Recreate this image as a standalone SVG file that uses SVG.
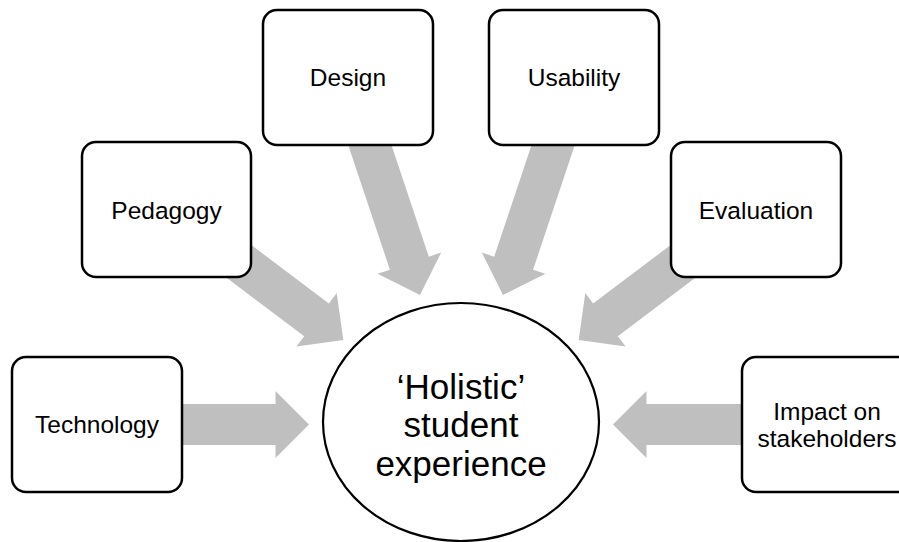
<svg xmlns="http://www.w3.org/2000/svg" width="899" height="542" viewBox="0 0 899 542">
<style>
.arrow{fill:#bfbfbf;stroke:none}
.box{fill:#ffffff;stroke:#000000;stroke-width:2.5}
.hub{fill:#ffffff;stroke:#000000;stroke-width:2.2}
.lbl{font-family:"Liberation Sans",Arial,sans-serif;font-size:24.5px;fill:#000000;text-anchor:middle}
.big{font-family:"Liberation Sans",Arial,sans-serif;font-size:35px;fill:#000000;text-anchor:middle}
</style>
<defs>
<polygon id="arr128" points="0,0 -33.5,-33.5 -33.5,-20.5 -128,-20.5 -128,20.5 -33.5,20.5 -33.5,33.5"/>
<polygon id="arr170" points="0,0 -33.5,-33.5 -33.5,-20.5 -170,-20.5 -170,20.5 -33.5,20.5 -33.5,33.5"/>
<polygon id="arr200" points="0,0 -33.5,-33.5 -33.5,-20.5 -200,-20.5 -200,20.5 -33.5,20.5 -33.5,33.5"/>
</defs>
<g id="connectors">
<use href="#arr128" class="arrow" transform="translate(309,424.5)"/>
<use href="#arr128" class="arrow" transform="translate(613,424.5) rotate(180)"/>
<use href="#arr170" class="arrow" transform="translate(343.3,340) rotate(37)"/>
<use href="#arr170" class="arrow" transform="translate(578.7,340) rotate(143)"/>
<use href="#arr200" class="arrow" transform="translate(420,295) rotate(71.5)"/>
<use href="#arr200" class="arrow" transform="translate(503,295) rotate(108.5)"/>
</g>
<g id="technology">
<rect class="box" x="12" y="357" width="170" height="135" rx="14"/>
<text class="lbl" x="97" y="433">Technology</text>
</g>
<g id="pedagogy">
<rect class="box" x="82" y="142" width="169" height="135" rx="14"/>
<text class="lbl" x="166.5" y="218.5">Pedagogy</text>
</g>
<g id="design">
<rect class="box" x="263" y="10" width="170" height="135" rx="14"/>
<text class="lbl" x="348" y="86">Design</text>
</g>
<g id="usability">
<rect class="box" x="489" y="10" width="170" height="135" rx="14"/>
<text class="lbl" x="574" y="86">Usability</text>
</g>
<g id="evaluation">
<rect class="box" x="671" y="142" width="170" height="135" rx="14"/>
<text class="lbl" x="756" y="218.5">Evaluation</text>
</g>
<g id="impact">
<rect class="box" x="742" y="357" width="170" height="135" rx="14"/>
<text class="lbl" x="827" y="420">Impact on</text>
<text class="lbl" x="827" y="447">stakeholders</text>
</g>
<g id="hub">
<ellipse class="hub" cx="461" cy="422" rx="138" ry="119"/>
<text class="big" x="461" y="398.5">‘Holistic’</text>
<text class="big" x="461" y="437">student</text>
<text class="big" x="461" y="475.5">experience</text>
</g>
</svg>
